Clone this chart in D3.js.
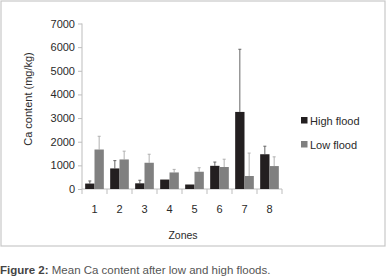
<!DOCTYPE html>
<html><head><meta charset="utf-8">
<script src="https://cdn.jsdelivr.net/npm/d3@7"></script>
<style>
body{margin:0;background:#fff;}
text{font-family:"Liberation Sans Narrow","Arial Narrow","Liberation Sans",sans-serif;}
</style></head>
<body><svg id="c" width="387" height="279"></svg>
<script>
const zones = ["1","2","3","4","5","6","7","8"];
const highFlood = [230, 870, 240, 400, 190, 980, 3260, 1470];
const highFloodErr = [110, 330, 130, 0, 0, 160, 2650, 340];
const lowFlood = [1670, 1250, 1110, 700, 730, 930, 550, 970];
const lowFloodErr = [560, 350, 360, 130, 170, 330, 970, 390];
const yTicks = [0,1000,2000,3000,4000,5000,6000,7000];
const seriesNames = ["High flood","Low flood"];
const colors = ["#231f20","#808080"];
const errColors = ["#666","#b0b0b0"];

const svg = d3.select("#c");
svg.append("rect").attr("x",1).attr("y",1).attr("width",384).attr("height",245)
  .attr("fill","#fff").attr("stroke","#c8c8c8").attr("stroke-width",1.2);

const x0 = 82, x1 = 282, yTop = 23.5, yBot = 189;
const x = d3.scaleBand().domain(zones).range([x0,x1]).paddingInner(0).paddingOuter(0);
const y = d3.scaleLinear().domain([0,7000]).range([yBot,yTop]);
const xs = d3.scaleBand().domain([0,1]).range([0,x.bandwidth()]).paddingInner(0).paddingOuter(0.34);

// y axis
const ya = svg.append("g").attr("transform",`translate(${x0},0)`)
  .call(d3.axisLeft(y).tickValues(yTicks).tickSize(4).tickPadding(3).tickFormat(d3.format("d")));
ya.selectAll(".tick line").attr("stroke","#bdbdbd");
ya.selectAll("text").attr("fill","#2a2a2a").style("font-size","11px");
ya.select(".domain").attr("stroke","#bdbdbd").attr("d",`M0,${yTop}V${yBot}`);

// x axis
const xa = svg.append("g").attr("transform",`translate(0,${yBot})`);
xa.append("line").attr("x1",x0).attr("x2",x1).attr("stroke","#bdbdbd");
xa.selectAll(".tk").data(zones.concat(["end"])).enter().append("line")
  .attr("x1",(d,i)=> i<zones.length ? x(d) : x1)
  .attr("x2",(d,i)=> i<zones.length ? x(d) : x1)
  .attr("y1",0).attr("y2",5).attr("stroke","#bdbdbd");
xa.selectAll(".lb").data(zones).enter().append("text")
  .attr("x",d=>x(d)+x.bandwidth()/2).attr("y",24).attr("text-anchor","middle")
  .attr("fill","#2a2a2a").style("font-size","11px").text(d=>d);

// bars
const data = [highFlood, lowFlood];
const errs = [highFloodErr, lowFloodErr];
data.forEach((vals,s)=>{
  const g = svg.append("g");
  vals.forEach((v,i)=>{
    const bx = x(zones[i]) + xs(s);
    const w = xs.bandwidth();
    const e = errs[s][i];
    if (e>0){
      const cx = bx + w/2;
      g.append("line").attr("x1",cx).attr("x2",cx).attr("y1",y(v)).attr("y2",y(v+e))
        .attr("stroke",errColors[s]).attr("stroke-width",1);
      g.append("line").attr("x1",cx-1.5).attr("x2",cx+1.5).attr("y1",y(v+e)).attr("y2",y(v+e))
        .attr("stroke",errColors[s]).attr("stroke-width",1);
    }
    g.append("rect").attr("x",bx).attr("width",w).attr("y",y(v)).attr("height",y(0)-y(v))
      .attr("fill",colors[s]);
  });
});

// legend
seriesNames.forEach((n,i)=>{
  const ly = 117 + i*24;
  svg.append("rect").attr("x",301).attr("y",ly).attr("width",6.5).attr("height",6.5).attr("fill",colors[i]);
  svg.append("text").attr("x",310).attr("y",ly+7.5).attr("fill","#2a2a2a").style("font-size","11px").text(n);
});

// axis titles
svg.append("text").attr("transform","translate(32,99) rotate(-90)").attr("text-anchor","middle")
  .attr("fill","#2a2a2a").style("font-size","11px").text("Ca content (mg/kg)");
svg.append("text").attr("x",183).attr("y",239).attr("text-anchor","middle")
  .attr("fill","#2a2a2a").style("font-size","10.5px").text("Zones");

// caption
const cap = svg.append("text").attr("x",0).attr("y",274).style("font-size","11.5px").attr("fill","#555");
cap.append("tspan").style("font-weight","bold").attr("fill","#444").text("Figure 2:");
cap.append("tspan").text(" Mean Ca content after low and high floods.");
</script></body></html>
